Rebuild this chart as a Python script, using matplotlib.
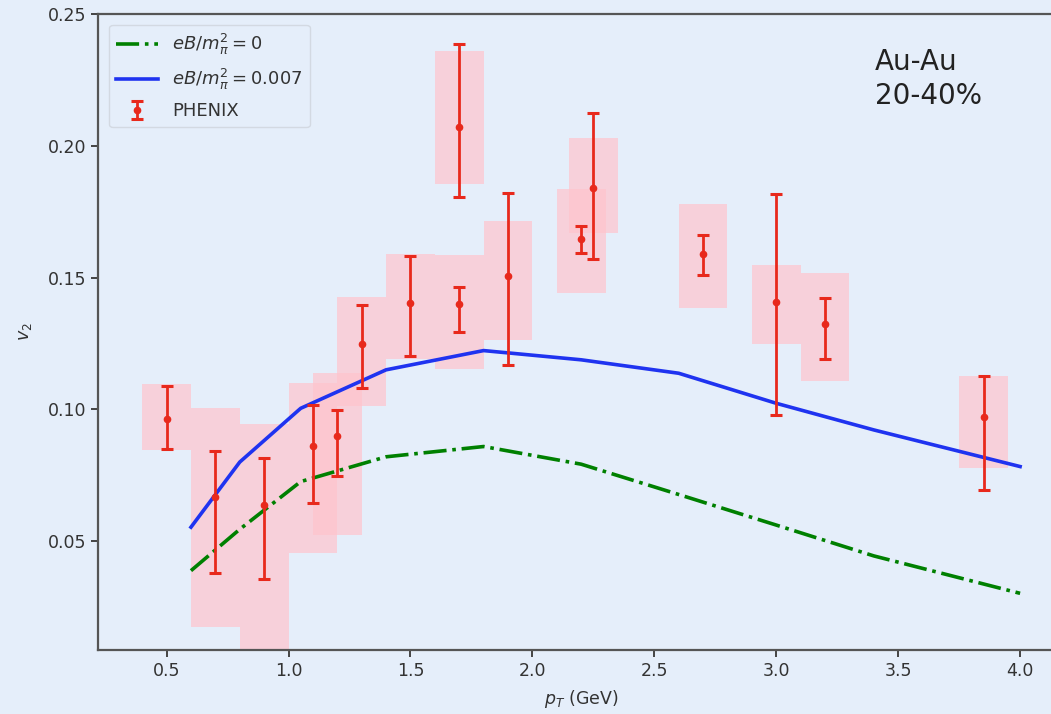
import matplotlib
matplotlib.use("Agg")
import matplotlib.pyplot as plt
import numpy as np

# ---- data ----
pt_theory = [0.6, 0.8, 1.05, 1.4, 1.8, 2.2, 2.6, 3.0, 3.4, 4.0]
v2_eb0 = [0.0388, 0.0545, 0.0726, 0.0820, 0.0859, 0.0792, 0.0677, 0.0561, 0.0444, 0.0302]
v2_eb007 = [0.0553, 0.0800, 0.1004, 0.1150, 0.1223, 0.1188, 0.1137, 0.1023, 0.0922, 0.0783]

pt_data = [0.5, 0.7, 0.9, 1.1, 1.2, 1.3, 1.5, 1.7, 1.7, 1.9, 2.2, 2.25, 2.7, 3.0, 3.2, 3.85]
v2_data = [0.0962, 0.0669, 0.0637, 0.0861, 0.0899, 0.1247, 0.1403, 0.2070, 0.1400,
           0.1507, 0.1646, 0.1841, 0.1588, 0.1409, 0.1324, 0.0972]
stat_low = [0.0849, 0.0378, 0.0358, 0.0646, 0.0749, 0.1080, 0.1203, 0.1805, 0.1295,
            0.1168, 0.1592, 0.1570, 0.1510, 0.0979, 0.1190, 0.0694]
stat_high = [0.1089, 0.0842, 0.0817, 0.1017, 0.0998, 0.1396, 0.1583, 0.2386, 0.1465,
             0.1821, 0.1696, 0.2123, 0.1662, 0.1817, 0.1424, 0.1127]
sys_low = [0.0846, 0.0176, 0.0000, 0.0456, 0.0524, 0.1013, 0.1190, 0.1855, 0.1152,
           0.1263, 0.1443, 0.1668, 0.1386, 0.1247, 0.1109, 0.0777]
sys_high = [0.1096, 0.1004, 0.0943, 0.1101, 0.1137, 0.1428, 0.1590, 0.2361, 0.1586,
            0.1715, 0.1835, 0.2031, 0.1778, 0.1548, 0.1516, 0.1127]

xticks = [0.5, 1.0, 1.5, 2.0, 2.5, 3.0, 3.5, 4.0]
yticks = [0.05, 0.10, 0.15, 0.20, 0.25]

# ---- style ----
bg = '#e5eefa'
txt = '#333333'
plt.rcParams['font.family'] = ['DejaVu Sans']

fig = plt.figure(figsize=(10.51, 7.14), dpi=100, facecolor=bg)
ax = fig.add_axes([98.3 / 1051, 64 / 714, (1064 - 98.3) / 1051, 636 / 714])
ax.set_facecolor(bg)

v = np.array(v2_data)
sl = np.array(sys_low)
sh = np.array(sys_high)
ax.bar(pt_data, sh - sl, bottom=sl, width=0.2, color='#ffc4cd', alpha=0.7,
       linewidth=0, zorder=1)

ax.plot(pt_theory, v2_eb0, color='green', linestyle='-.', linewidth=2.6,
        label=r'$eB/m_\pi^2=0$', zorder=3)
ax.plot(pt_theory, v2_eb007, color='#1f33f0', linestyle='-', linewidth=2.6,
        label=r'$eB/m_\pi^2=0.007$', zorder=3)

yerr = [v - np.array(stat_low), np.array(stat_high) - v]
ax.errorbar(pt_data, v2_data, yerr=yerr, fmt='o', color='#e8291c', ms=4.5,
            elinewidth=2, capsize=4, capthick=2.2, label='PHENIX', zorder=4)

ax.set_xlim(0.22, 4.18)
ax.set_ylim(0.0087, 0.25)
ax.set_xticks(xticks)
ax.set_yticks(yticks)
ax.set_xticklabels([f'{t:.1f}' for t in xticks])
ax.set_yticklabels([f'{t:.2f}' for t in yticks])
ax.tick_params(labelsize=12.5, colors='#444444', labelcolor=txt, length=5, width=1.4)
for s in ['left', 'bottom', 'top']:
    ax.spines[s].set_color('#555555')
    ax.spines[s].set_linewidth(1.6)
ax.spines['right'].set_visible(False)

ax.set_xlabel(r'$p_T$ (GeV)', fontsize=12.5, color=txt, labelpad=6)
ax.set_ylabel(r'$v_2$', fontsize=12.5, color=txt, labelpad=10)

ax.text(3.405, 0.2372, 'Au-Au\n20-40%', fontsize=20, color='#222222',
        va='top', ha='left', linespacing=1.3)

leg = ax.legend(loc='upper left', fontsize=13, frameon=True, borderaxespad=0.6,
                handlelength=2.3, labelspacing=0.55)
leg.get_frame().set_facecolor(bg)
leg.get_frame().set_alpha(1.0)
leg.get_frame().set_edgecolor('#d3d9e2')
for t in leg.get_texts():
    t.set_color(txt)

fig.savefig('out.png', dpi=100, facecolor=bg)
